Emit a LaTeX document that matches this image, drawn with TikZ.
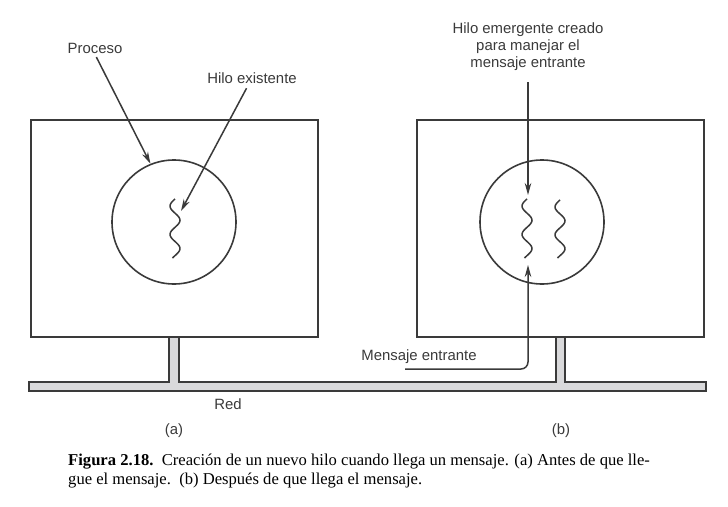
\documentclass[tikz,border=0pt]{standalone}
\usepackage{fontspec}
\setmainfont{Liberation Sans}
\newfontfamily\capfont{Liberation Serif}
\usetikzlibrary{arrows.meta}
\definecolor{ink}{HTML}{3A3A3A}
\definecolor{redgris}{HTML}{D9D9DB}

\begin{document}
\begin{tikzpicture}[
  x=1pt, y=-1pt,
  >={Stealth[length=12pt,width=6.5pt]},
  lbl/.style={font=\fontsize{14.9}{17}\selectfont, text=ink, inner sep=1pt, align=center},
  proc/.style={draw=ink, line width=1.6pt, fill=white, minimum width=287pt, minimum height=217pt, inner sep=0pt},
  nucleo/.style={circle, draw=ink, line width=1.6pt, minimum size=124pt, inner sep=0pt},
  hilo/.style={draw=ink, line width=1.5pt, smooth, samples=40},
  arrow/.style={->, draw=ink, line width=1.5pt},
  netbar/.style={draw=ink, line width=1.6pt, fill=redgris}
]
\useasboundingbox (0,0) rectangle (728,506);

% red con las dos derivaciones
\draw[netbar] (29,382) -- (169,382) -- (169,337) -- (179,337) -- (179,382)
  -- (556,382) -- (556,337) -- (565,337) -- (565,382) -- (706,382)
  -- (706,391) -- (29,391) -- cycle;

% (a) antes
\node[proc] (procA) at (174.5,228.5) {};
\node[nucleo] (nucA) at (174,222) {};
\draw[hilo] plot[domain=0:750] ({175-5*sin(\x)}, {199+\x/750*59});

% (b) despues
\node[proc] (procB) at (560.5,228.5) {};
\node[nucleo] (nucB) at (542,222) {};
\draw[hilo] plot[domain=0:750] ({527-5*sin(\x)}, {199+\x/750*59});
\draw[hilo] plot[domain=0:750] ({560-5*sin(\x)}, {200+\x/750*58});

% etiquetas
\node[lbl] (proceso) at (95,48) {Proceso};
\node[lbl] (existente) at (252,78) {Hilo existente};
\node[lbl] (emergente) at (528,47) {Hilo emergente creado\\para manejar el\\mensaje entrante};
\node[lbl] (entrante) at (419,357) {Mensaje entrante};
\node[lbl] (red) at (228,404) {Red};
\node[lbl] (a) at (174,431) {(a)};
\node[lbl] (b) at (561,431) {(b)};

% flechas
\coordinate (tipA) at (181,211);
\coordinate (tipB) at (528,195);
\coordinate (msgIn) at (405,369);
\coordinate (tipM) at (528,265);
\draw[arrow, shorten <=3pt] (proceso.south) -- (nucA.112);
\draw[arrow, shorten <=4pt] (existente) -- (tipA);
\draw[arrow, shorten <=10pt] (emergente) -- (tipB);
\draw[arrow, rounded corners=7pt] (msgIn) -- (msgIn -| tipM) -- (tipM);

% pie de figura
\node[anchor=north west, align=left, inner sep=0pt,
  font=\capfont\fontsize{16.6}{18.5}\selectfont] (pie) at (68,454)
  {\textbf{Figura 2.18.}\ \ Creación de un nuevo hilo cuando llega un mensaje. (a) Antes de que lle-\\
   gue el mensaje.\ \ (b) Después de que llega el mensaje.};
\end{tikzpicture}
\end{document}
